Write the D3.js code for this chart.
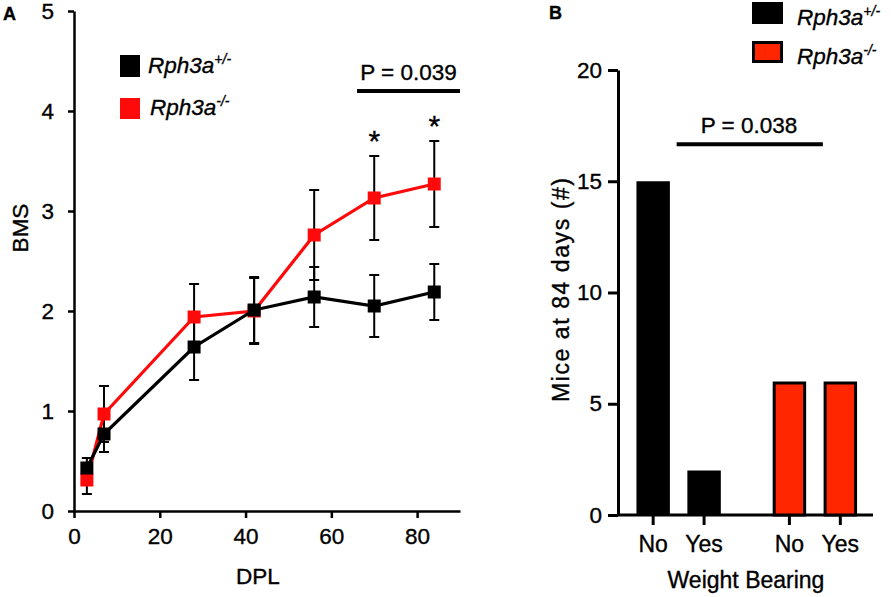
<!DOCTYPE html>
<html>
<head>
<meta charset="utf-8">
<script src="https://cdn.jsdelivr.net/npm/d3@7"></script>
<style>
    body { margin: 0; background: #fff; }
    svg text { font-family: "Liberation Sans", Arial, Helvetica, sans-serif; stroke: #000; stroke-width: 0.35px; }
</style>
</head>
<body>
<div id="chart"></div>
<script>

// ---- panel A data: BMS score over days post lesion ----
var dpl = [3, 7, 28, 42, 56, 70, 84];
var hetMean = [0.43, 0.77, 1.64, 2.01, 2.14, 2.05, 2.19];
var hetSem  = [0.10, 0.18, 0.33, 0.33, 0.30, 0.31, 0.28];
var koMean  = [0.31, 0.97, 1.94, 2.00, 2.76, 3.13, 3.27];
var koSem   = [0.14, 0.28, 0.33, 0.33, 0.45, 0.42, 0.43];
var starDays = [70, 84];
var xTicksA = [0, 20, 40, 60, 80];
var yTicksA = [0, 1, 2, 3, 4, 5];

// ---- panel B data: weight bearing at 84 days ----
var genotypes = ["het", "ko"];
var bearing = ["No", "Yes"];
var hetCounts = [15, 2];
var koCounts = [6, 6];
var yTicksB = [0, 5, 10, 15, 20];

var labels = { het: "+/-", ko: "-/-" };
var red = "#ff0a0a";
var redB = "#ff2600";
var fontSize = 22.5;

var svg = d3.select("#chart").append("svg")
    .attr("width", 891)
    .attr("height", 597);

// little helper for "Rph3a" + superscript
function genoText(g, x, y, key) {
    var t = g.append("text")
        .attr("x", x).attr("y", y)
        .attr("font-size", 22.5)
        .attr("font-style", "italic")
        .attr("fill", "#000");
    t.append("tspan").text("Rph3a");
    t.append("tspan").attr("dy", -9).attr("font-size", 14).text(labels[key]);
}

function styleAxis(ax, w) {
    ax.selectAll("path, line").attr("stroke", "#000").attr("stroke-width", w);
    ax.selectAll("text").attr("font-size", fontSize).attr("fill", "#000")
        .attr("font-family", "'Liberation Sans', Arial, sans-serif");
}

/*
 * Panel A - line chart with error bars
 */
function drawPanelA() {
    var g = svg.append("g");

    var x = d3.scaleLinear().domain([0, 90]).range([74, 460]);
    var y = d3.scaleLinear().domain([0, 5]).range([511, 11]);

    var xAxis = g.append("g")
        .attr("transform", "translate(0," + y(0) + ")")
        .call(d3.axisBottom(x).tickValues(xTicksA).tickSize(7).tickSizeOuter(0).tickPadding(10));
    styleAxis(xAxis, 2.5);

    var yAxis = g.append("g")
        .attr("transform", "translate(" + x(0) + ",0)")
        .call(d3.axisLeft(y).tickValues(yTicksA).tickFormat(d3.format("d"))
            .tickSize(6).tickSizeOuter(0).tickPadding(14));
    styleAxis(yAxis, 2.5);

    // axis titles
    g.append("text")
        .attr("x", 258).attr("y", 584)
        .attr("text-anchor", "middle")
        .attr("font-size", fontSize)
        .text("DPL");
    g.append("text")
        .attr("transform", "translate(28,228) rotate(-90)")
        .attr("text-anchor", "middle")
        .attr("font-size", fontSize)
        .text("BMS");

    var series = [
        { key: "ko", color: red, mean: koMean, sem: koSem },
        { key: "het", color: "#000", mean: hetMean, sem: hetSem }
    ];

    // error bars first so markers sit on top
    series.forEach(function(s) {
        var pts = dpl.map(function(d, i) { return { x: d, m: s.mean[i], e: s.sem[i] }; });
        var eb = g.append("g").attr("class", "err-" + s.key);
        eb.selectAll("line.v").data(pts).enter().append("line")
            .attr("x1", function(d) { return x(d.x); })
            .attr("x2", function(d) { return x(d.x); })
            .attr("y1", function(d) { return y(d.m - d.e); })
            .attr("y2", function(d) { return y(d.m + d.e); })
            .attr("stroke", "#000").attr("stroke-width", 2);
        [-1, 1].forEach(function(sign) {
            eb.selectAll("line.c" + sign).data(pts).enter().append("line")
                .attr("x1", function(d) { return x(d.x) - 5; })
                .attr("x2", function(d) { return x(d.x) + 5; })
                .attr("y1", function(d) { return y(d.m + sign * d.e); })
                .attr("y2", function(d) { return y(d.m + sign * d.e); })
                .attr("stroke", "#000").attr("stroke-width", 2);
        });
    });

    series.forEach(function(s) {
        var pts = dpl.map(function(d, i) { return [d, s.mean[i]]; });
        g.append("path")
            .datum(pts)
            .attr("fill", "none")
            .attr("stroke", s.color)
            .attr("stroke-width", 3.2)
            .attr("d", d3.line().x(function(d) { return x(d[0]); }).y(function(d) { return y(d[1]); }));
        g.selectAll("rect.m-" + s.key).data(pts).enter().append("rect")
            .attr("x", function(d) { return x(d[0]) - 6.5; })
            .attr("y", function(d) { return y(d[1]) - 6.5; })
            .attr("width", 13).attr("height", 13)
            .attr("fill", s.color);
    });

    // stars above the knockout error bars
    g.selectAll("text.star").data(starDays).enter().append("text")
        .attr("x", function(d) { return x(d); })
        .attr("y", function(d) {
            var i = dpl.indexOf(d);
            return y(koMean[i] + koSem[i]) - 5;
        })
        .attr("text-anchor", "middle")
        .attr("font-size", 30)
        .text("*");

    // significance bar
    g.append("line")
        .attr("x1", x(66)).attr("x2", x(90))
        .attr("y1", y(4.2)).attr("y2", y(4.2))
        .attr("stroke", "#000").attr("stroke-width", 4);
    g.append("text")
        .attr("x", x(78)).attr("y", 80)
        .attr("text-anchor", "middle")
        .attr("font-size", 22.5)
        .text("P = 0.039");

    // legend
    g.append("rect").attr("x", 120).attr("y", 55).attr("width", 20).attr("height", 22).attr("fill", "#000");
    g.append("rect").attr("x", 120).attr("y", 98).attr("width", 20).attr("height", 21).attr("fill", red);
    genoText(g, 148, 73, "het");
    genoText(g, 150, 115, "ko");

    g.append("text").attr("x", 3).attr("y", 20)
        .attr("font-size", 18).attr("font-weight", "bold").text("A");
}

/*
 * Panel B - grouped bars
 */
function drawPanelB() {
    var g = svg.append("g");

    var x0 = d3.scaleBand().domain(genotypes).range([619.5, 874]).paddingInner(0.3).paddingOuter(0.084);
    var x1 = d3.scaleBand().domain(bearing).range([0, x0.bandwidth()]).paddingInner(0.343).paddingOuter(0.108);
    var y = d3.scaleLinear().domain([0, 20]).range([515, 70]);

    var yAxis = g.append("g")
        .attr("transform", "translate(618,0)")
        .call(d3.axisLeft(y).tickValues(yTicksB).tickSize(10).tickSizeOuter(0).tickPadding(6));
    styleAxis(yAxis, 3);

    var bars = [];
    genotypes.forEach(function(gt) {
        var counts = gt === "het" ? hetCounts : koCounts;
        bearing.forEach(function(b, i) {
            bars.push({ g: gt, b: b, v: counts[i] });
        });
    });
    function cx(d) { return x0(d.g) + x1(d.b) + x1.bandwidth() / 2; }

    // x axis: line + ticks + labels
    g.append("line")
        .attr("x1", 618).attr("x2", 873)
        .attr("y1", y(0)).attr("y2", y(0))
        .attr("stroke", "#000").attr("stroke-width", 3);
    g.selectAll("line.xt").data(bars).enter().append("line")
        .attr("x1", cx).attr("x2", cx)
        .attr("y1", y(0)).attr("y2", y(0) + 10)
        .attr("stroke", "#000").attr("stroke-width", 3);
    g.selectAll("text.xl").data(bars).enter().append("text")
        .attr("x", cx).attr("y", 552)
        .attr("text-anchor", "middle")
        .attr("font-size", 23)
        .text(function(d) { return d.b; });

    g.selectAll("rect.bar").data(bars).enter().append("rect")
        .attr("x", function(d) { return cx(d) - x1.bandwidth() / 2 + (d.g === "ko" ? 1.5 : 0); })
        .attr("y", function(d) { return y(d.v) + (d.g === "ko" ? 1.5 : 0); })
        .attr("width", function(d) { return x1.bandwidth() - (d.g === "ko" ? 3 : 0); })
        .attr("height", function(d) { return y(0) - y(d.v) - (d.g === "ko" ? 1.5 : 0); })
        .attr("fill", function(d) { return d.g === "ko" ? redB : "#000"; })
        .attr("stroke", "#000")
        .attr("stroke-width", function(d) { return d.g === "ko" ? 3 : 0; });

    // titles
    g.append("text")
        .attr("x", 746).attr("y", 588)
        .attr("text-anchor", "middle")
        .attr("font-size", 23)
        .text("Weight Bearing");
    g.append("text")
        .attr("transform", "translate(569,290) rotate(-90)")
        .attr("text-anchor", "middle")
        .attr("font-size", 23)
        .attr("textLength", 224)
        .attr("lengthAdjust", "spacing")
        .text("Mice at 84 days (#)");

    // significance bar
    var sigY = y(16.66);
    g.append("line")
        .attr("x1", x0("het") + x0.bandwidth() / 2 - 2)
        .attr("x2", x0("ko") + x0.bandwidth() / 2 + 8)
        .attr("y1", sigY).attr("y2", sigY)
        .attr("stroke", "#000").attr("stroke-width", 4);
    g.append("text")
        .attr("x", 749).attr("y", 133)
        .attr("text-anchor", "middle")
        .attr("font-size", 22.5)
        .text("P = 0.038");

    // legend
    g.append("rect").attr("x", 752).attr("y", 2).attr("width", 31).attr("height", 22).attr("fill", "#000");
    g.append("rect").attr("x", 753.5).attr("y", 42.5).attr("width", 28).attr("height", 19)
        .attr("fill", redB).attr("stroke", "#000").attr("stroke-width", 3);
    genoText(g, 797, 25, "het");
    genoText(g, 797, 64, "ko");

    g.append("text").attr("x", 549).attr("y", 19)
        .attr("font-size", 18).attr("font-weight", "bold").text("B");
}

drawPanelA();
drawPanelB();

</script>
</body>
</html>
